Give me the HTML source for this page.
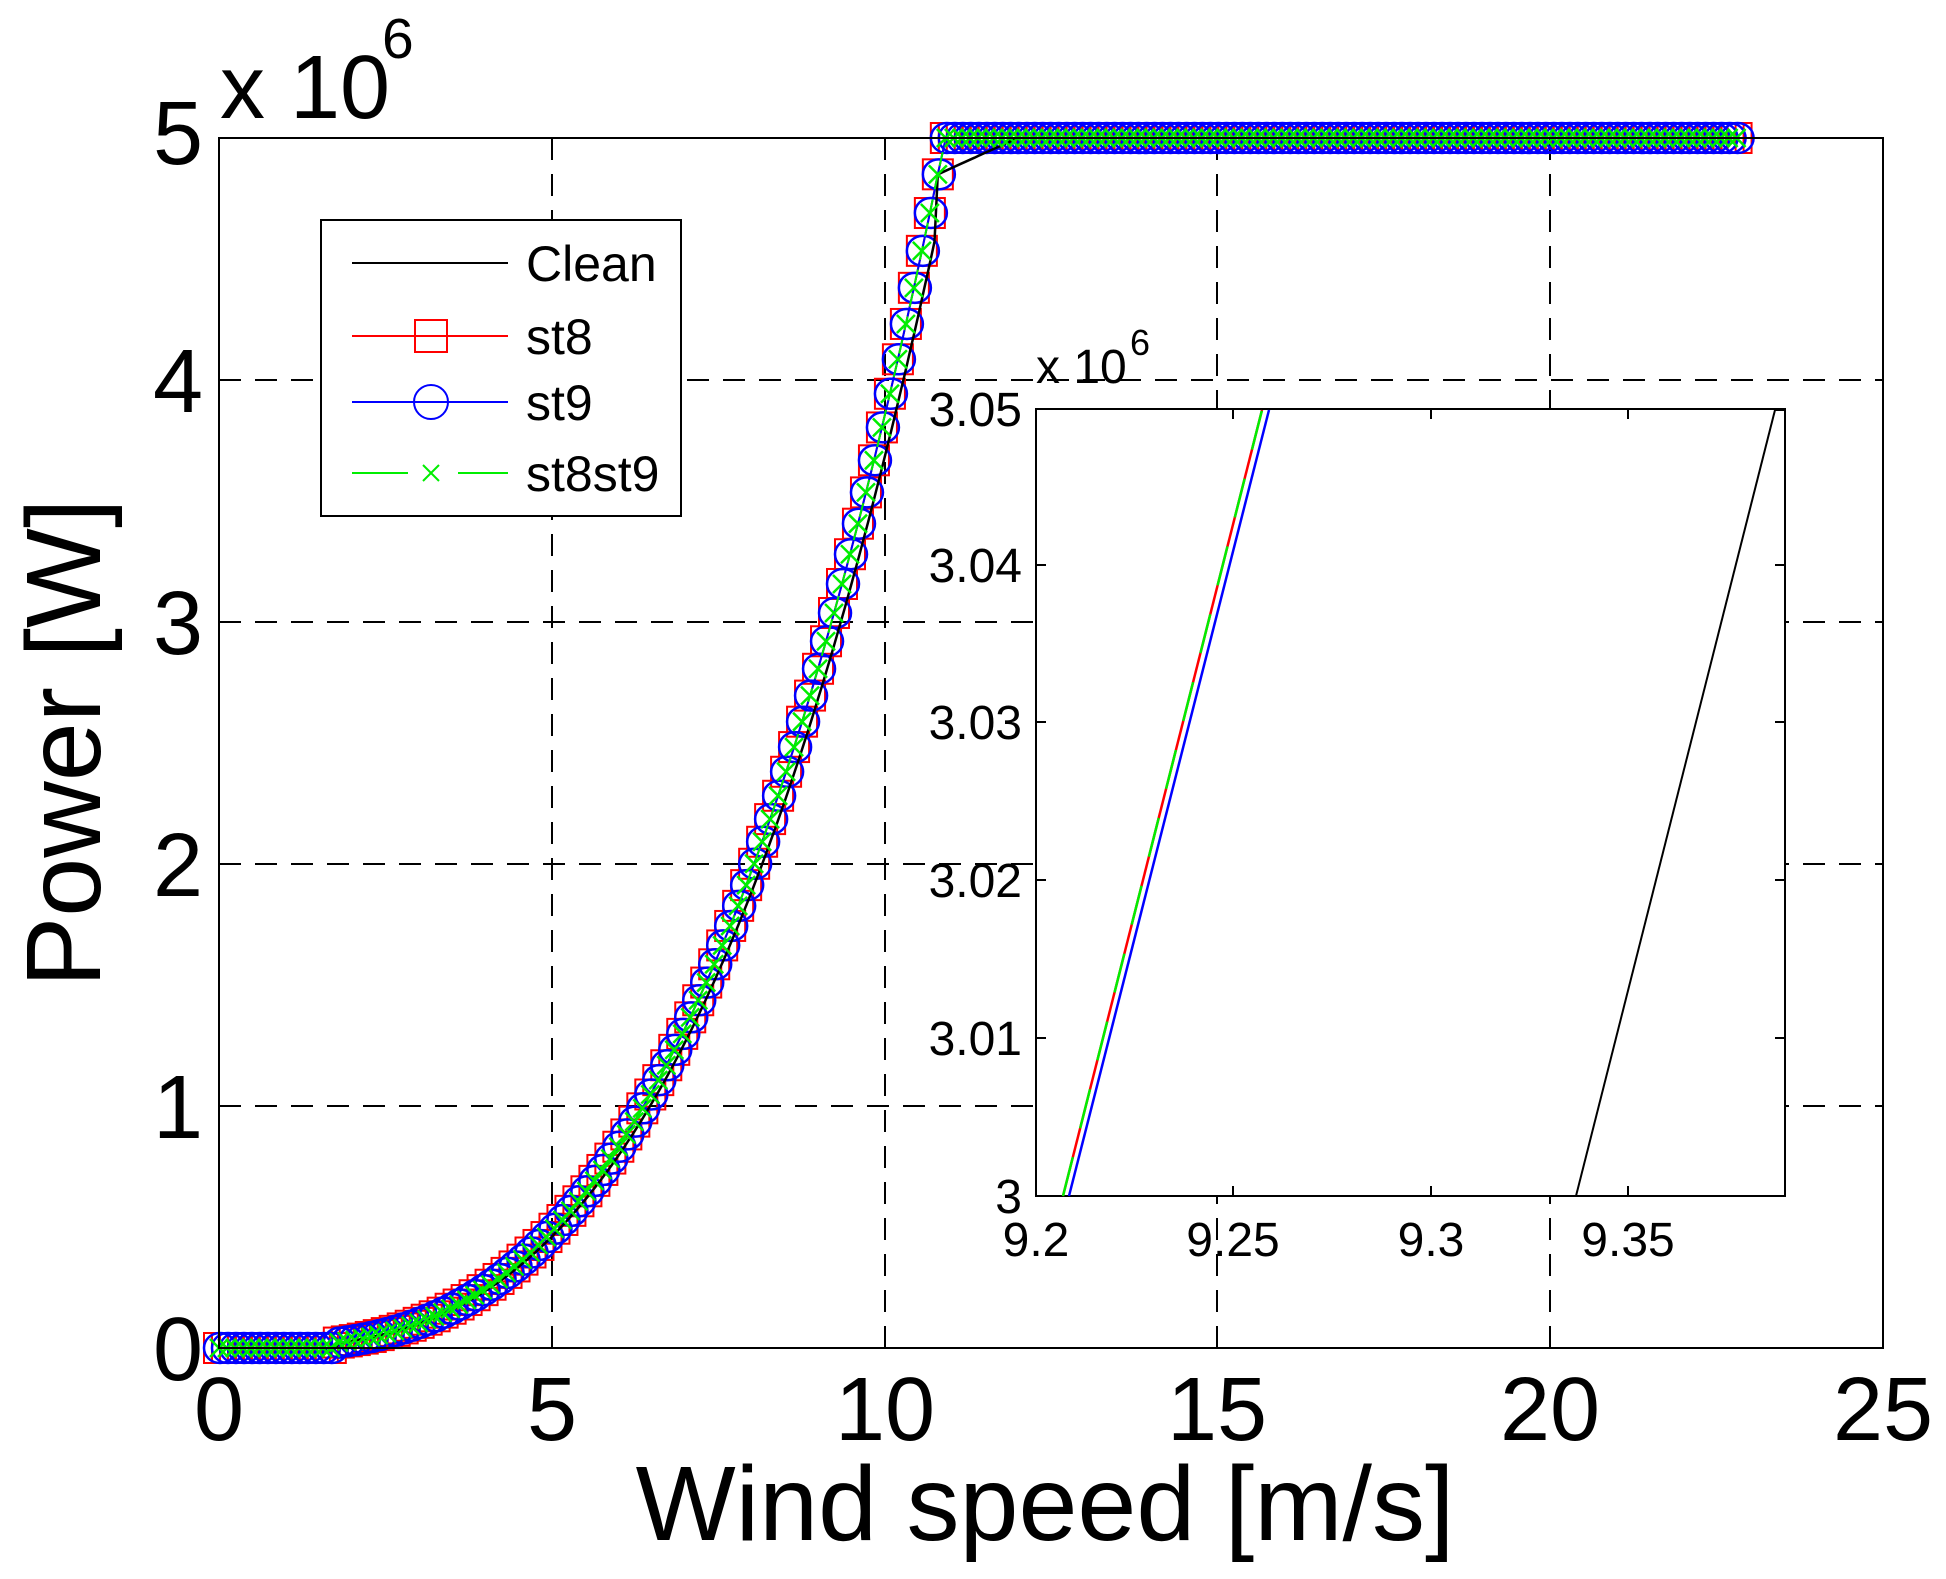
<!DOCTYPE html>
<html><head><meta charset="utf-8"><style>
html,body{margin:0;padding:0;background:#fff}
svg{display:block}
text{font-family:"Liberation Sans",Arial,sans-serif}
</style></head><body>
<svg id="s" width="1946" height="1579" viewBox="0 0 1946 1579" xmlns="http://www.w3.org/2000/svg">
<rect width="1946" height="1579" fill="#fff"/>
<g stroke="#000" stroke-width="2" stroke-dasharray="22,14" fill="none">
<line x1="552" y1="138" x2="552" y2="1348"/>
<line x1="885" y1="138" x2="885" y2="1348"/>
<line x1="1217" y1="138" x2="1217" y2="1348"/>
<line x1="1550" y1="138" x2="1550" y2="1348"/>
<line x1="219" y1="1106" x2="1883" y2="1106"/>
<line x1="219" y1="864" x2="1883" y2="864"/>
<line x1="219" y1="622" x2="1883" y2="622"/>
<line x1="219" y1="380" x2="1883" y2="380"/>
</g>
<g id="data"></g>
<rect x="219" y="138" width="1664" height="1210" fill="none" stroke="#000" stroke-width="2"/>
<g font-size="90" fill="#000">
<text x="219" y="1440" text-anchor="middle">0</text>
<text x="552" y="1440" text-anchor="middle">5</text>
<text x="885" y="1440" text-anchor="middle">10</text>
<text x="1217" y="1440" text-anchor="middle">15</text>
<text x="1550" y="1440" text-anchor="middle">20</text>
<text x="1883" y="1440" text-anchor="middle">25</text>
<text x="203" y="1380" text-anchor="end">0</text>
<text x="203" y="1138" text-anchor="end">1</text>
<text x="203" y="896" text-anchor="end">2</text>
<text x="203" y="654" text-anchor="end">3</text>
<text x="203" y="412" text-anchor="end">4</text>
<text x="203" y="164" text-anchor="end">5</text>
<text x="220" y="118">x 10</text>
<text x="382" y="58" font-size="57">6</text>
</g>
<text x="1045" y="1540" font-size="106" text-anchor="middle">Wind speed [m/s]</text>
<text transform="translate(100,743) rotate(-90)" font-size="106" text-anchor="middle">Power [W]</text>
<!-- legend -->
<rect x="321" y="220" width="360" height="296" fill="#fff" stroke="#000" stroke-width="2"/>
<g font-size="50">
<line x1="352" y1="263" x2="508" y2="263" stroke="#000" stroke-width="2"/>
<text x="526" y="281">Clean</text>
<line x1="352" y1="336" x2="508" y2="336" stroke="#f00" stroke-width="2"/>
<rect x="415" y="320" width="32" height="32" fill="none" stroke="#f00" stroke-width="2"/>
<text x="526" y="354">st8</text>
<line x1="352" y1="402" x2="508" y2="402" stroke="#00f" stroke-width="2"/>
<circle cx="431" cy="402" r="17" fill="none" stroke="#00f" stroke-width="2"/>
<text x="526" y="420">st9</text>
<line x1="352" y1="473" x2="408" y2="473" stroke="#0e0" stroke-width="2"/>
<line x1="458" y1="473" x2="508" y2="473" stroke="#0e0" stroke-width="2"/>
<path d="M423 465l16 16M439 465l-16 16" stroke="#0e0" stroke-width="2"/>
<text x="526" y="491">st8st9</text>
</g>
<!-- inset -->
<rect x="1036" y="409" width="749" height="787" fill="#fff" stroke="#000" stroke-width="2"/>
<g stroke="#000" stroke-width="2">
<line x1="1233" y1="1196" x2="1233" y2="1186"/><line x1="1233" y1="409" x2="1233" y2="419"/>
<line x1="1431" y1="1196" x2="1431" y2="1186"/><line x1="1431" y1="409" x2="1431" y2="419"/>
<line x1="1628" y1="1196" x2="1628" y2="1186"/><line x1="1628" y1="409" x2="1628" y2="419"/>
<line x1="1036" y1="1038" x2="1046" y2="1038"/><line x1="1785" y1="1038" x2="1775" y2="1038"/>
<line x1="1036" y1="880" x2="1046" y2="880"/><line x1="1785" y1="880" x2="1775" y2="880"/>
<line x1="1036" y1="722" x2="1046" y2="722"/><line x1="1785" y1="722" x2="1775" y2="722"/>
<line x1="1036" y1="565" x2="1046" y2="565"/><line x1="1785" y1="565" x2="1775" y2="565"/>
</g>
<line x1="1069" y1="1196" x2="1269" y2="410" stroke="#00f" stroke-width="2.5"/>
<line x1="1063" y1="1196" x2="1262" y2="410" stroke="#f00" stroke-width="2.5"/>
<line x1="1063" y1="1196" x2="1262" y2="410" stroke="#0e0" stroke-width="2.5" stroke-dasharray="40,30"/>
<line x1="1576" y1="1196" x2="1775" y2="410" stroke="#000" stroke-width="2"/>
<line x1="1775" y1="410" x2="1785" y2="410" stroke="#000" stroke-width="2"/>
<g font-size="48">
<text x="1022" y="1213" text-anchor="end">3</text>
<text x="1022" y="1055" text-anchor="end">3.01</text>
<text x="1022" y="897" text-anchor="end">3.02</text>
<text x="1022" y="739" text-anchor="end">3.03</text>
<text x="1022" y="582" text-anchor="end">3.04</text>
<text x="1022" y="426" text-anchor="end">3.05</text>
<text x="1036" y="1256" text-anchor="middle">9.2</text>
<text x="1233" y="1256" text-anchor="middle">9.25</text>
<text x="1431" y="1256" text-anchor="middle">9.3</text>
<text x="1628" y="1256" text-anchor="middle">9.35</text>
<text x="1036" y="383">x 10</text>
<text x="1130" y="355" font-size="36">6</text>
</g>
</svg>
<script>
var g=document.getElementById('data'),NS='http://www.w3.org/2000/svg';
function X(v){return 219+66.56*v}function Y(p){return 1348-242*p/1e6}
function P(v,k){if(v<1.8)return 0;return Math.min(k*Math.pow(v,3),5e6)}
function el(t,a){var e=document.createElementNS(NS,t);for(var k in a)e.setAttribute(k,a[k]);g.appendChild(e);return e}
var pts=[],cl=[];
for(var v=0;v<=22.81;v+=0.12){pts.push([X(v),Y(P(v,3850))]);}
for(var v=0;v<=22.81;v+=0.05){var p=v<10.8?P(v,3680):Math.min(4.85e6+(v-10.8)*0.15e6/1.2,5e6);cl.push(X(v).toFixed(1)+','+Y(p).toFixed(1));}
var s=pts.map(function(q){return q[0].toFixed(1)+','+q[1].toFixed(1)}).join(' ');
pts.forEach(function(q){el('rect',{x:q[0]-15,y:q[1]-15,width:30,height:30,fill:'none',stroke:'#f00','stroke-width':2})});
el('polyline',{points:s,fill:'none',stroke:'#f00','stroke-width':2});
pts.forEach(function(q){el('ellipse',{cx:q[0]+1,cy:q[1],rx:16,ry:15,fill:'none',stroke:'#00f','stroke-width':2.5})});
el('polyline',{points:s,fill:'none',stroke:'#00f','stroke-width':2});
el('polyline',{points:cl.join(' '),fill:'none',stroke:'#000','stroke-width':2.5});
el('polyline',{points:s,fill:'none',stroke:'#0e0','stroke-width':2,'stroke-dasharray':'14,10'});
pts.forEach(function(q){el('path',{d:'M'+(q[0]-9)+' '+(q[1]-9)+'l18 18M'+(q[0]+9)+' '+(q[1]-9)+'l-18 18',stroke:'#0e0','stroke-width':2.5})});
</script>
</body></html>
